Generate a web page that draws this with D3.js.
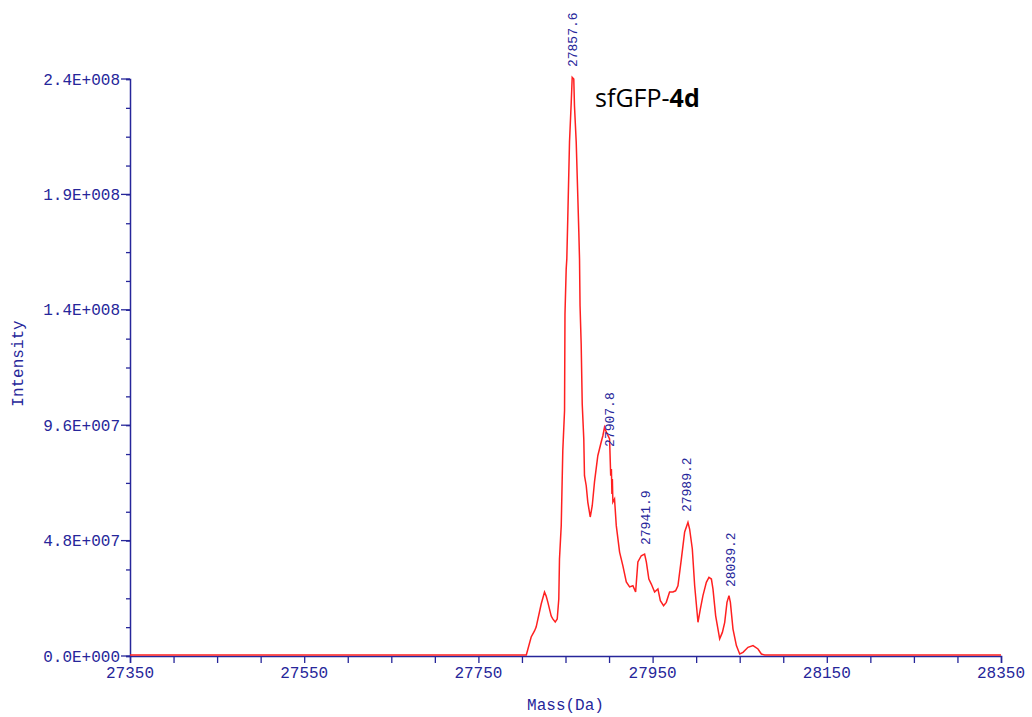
<!DOCTYPE html>
<meta charset="utf-8">
<script src="https://d3js.org/d3.v7.min.js"></script>
<style>
  body { margin: 0; background: #fff; }
</style>
<div id="my_dataviz"></div>
<script>

// spectrum trace: mass (Da) and intensity (x 1e6)
var mass = [27350, 27805, 27810.6, 27814.4, 27816.3, 27820.1, 27822.1, 27825.9, 27827.8, 27829.7,
  27833.6, 27835.4, 27838.2, 27840.5, 27842.3, 27843.1, 27845.1, 27846.9, 27848.9, 27849.4,
  27850.8, 27851.5, 27852.6, 27854.6, 27856.6, 27857.7, 27859.5, 27860.3, 27862.3, 27864.1,
  27865.3, 27866.1, 27866.7, 27868.0, 27869.2, 27871.0, 27871.8, 27873.8, 27875.6, 27878.4,
  27880.7, 27883.3, 27887.1, 27891.0, 27892.9, 27894.8, 27896.8, 27900.6, 27901.9, 27902.7,
  27903.3, 27903.8, 27904.4, 27906.3, 27908.3, 27912.1, 27915.9, 27919.8, 27923.6, 27927.4,
  27930.5, 27933.1, 27937.0, 27940.8, 27942.8, 27945.7, 27948.5, 27952.3, 27956.1, 27958.9,
  27962.6, 27965.7, 27969.5, 27973.3, 27976.4, 27979.1, 27983.0, 27986.8, 27990.6, 27992.5,
  27995.6, 27998.3, 28002.1, 28004.8, 28007.8, 28011.7, 28014.7, 28017.5, 28019.3, 28022.4,
  28027.0, 28030.1, 28032.8, 28035.4, 28037.7, 28039.3, 28042.3, 28046.2, 28050.0, 28053.8,
  28059.5, 28065.3, 28071.0, 28074.9, 28078.7, 28350];
var intensity = [0, 0, 7.5, 10.0, 11.6, 17.9, 21.2, 26.2, 24.5, 22.0,
  16.2, 15.0, 13.7, 15.0, 23.3, 39.9, 53.8, 85.0, 101.6, 141.8,
  160.6, 164.7, 181.4, 213.4, 230.0, 240.3, 239.6, 228.5, 213.4, 191.0,
  175.9, 164.7, 145.3, 129.4, 104.4, 89.8, 74.6, 70.4, 63.6, 57.4,
  62.1, 72.0, 82.9, 88.6, 91.2, 94.7, 92.8, 89.9, 74.6, 77.4,
  67.0, 73.2, 63.6, 64.9, 53.8, 42.8, 37.1, 30.4, 28.3, 28.8,
  26.2, 38.7, 41.3, 42.0, 38.7, 31.6, 29.5, 26.2, 27.5, 22.6,
  20.5, 21.9, 26.2, 26.2, 26.7, 28.8, 39.9, 51.2, 55.2, 52.4,
  44.1, 28.8, 13.6, 19.1, 24.7, 30.2, 32.3, 31.6, 27.5, 16.3,
  6.7, 9.4, 13.6, 21.9, 24.7, 21.9, 10.8, 3.9, 0.4, 1.1,
  3.2, 3.9, 2.5, 0.4, 0, 0];

// peak annotations: text, anchor mass, anchor intensity (x 1e6)
var peakText = ["27857.6", "27907.8", "27941.9", "27989.2", "28039.2"];
var peakMass = [27857.6, 27901, 27941.9, 27989.2, 28039.2];
var peakInt = [240.4, 82.4, 41.6, 55.3, 24.1];

// axis ticks
var xLabelTicks = [27350, 27550, 27750, 27950, 28150, 28350];
var yLabelTicks = [0, 48, 96, 144, 192, 240];
var yLabelText = ["0.0E+000", "4.8E+007", "9.6E+007", "1.4E+008", "1.9E+008", "2.4E+008"];

var axisColor = "#26269a";
var monoFont = "'Liberation Mono', 'DejaVu Sans Mono', monospace";

var margin = {top: 79, right: 31, bottom: 61, left: 130},
    width = 1032 - margin.left - margin.right,
    height = 717 - margin.top - margin.bottom;

var svg = d3.select("#my_dataviz")
  .append("svg")
    .attr("width", 1032)
    .attr("height", 717)
  .append("g")
    .attr("transform", "translate(" + margin.left + "," + margin.top + ")");

var x = d3.scaleLinear().domain([27350, 28350]).range([0, width]);
var y = d3.scaleLinear().domain([0, 240]).range([height, 0]);

// X axis: minor ticks every 50 Da, labels every 200 Da
var xMinor = d3.range(27350, 28350.1, 50);
var xAxisG = svg.append("g").attr("transform", "translate(0," + height + ")");
xAxisG.call(d3.axisBottom(x).tickValues(xMinor).tickSize(7).tickFormat(""));
xAxisG.selectAll("text").remove();
xAxisG.selectAll("text.lab")
  .data(xLabelTicks)
  .enter().append("text")
    .attr("class", "lab")
    .attr("x", function(d) { return x(d); })
    .attr("y", 22)
    .attr("text-anchor", "middle")
    .style("font-family", monoFont)
    .style("font-size", "16px")
    .attr("fill", axisColor)
    .text(function(d) { return d; });

// Y axis: minor ticks every 1.2E7, labels every 4.8E7
var yMinor = d3.range(0, 240.1, 12);
var yAxisG = svg.append("g");
yAxisG.call(d3.axisLeft(y).tickValues(yMinor).tickSize(4).tickFormat(""));
yAxisG.selectAll("line.major")
  .data(yLabelTicks)
  .enter().append("line")
    .attr("class", "major")
    .attr("x1", -9).attr("x2", 0)
    .attr("y1", function(d) { return y(d); })
    .attr("y2", function(d) { return y(d); });
yAxisG.selectAll("text.lab")
  .data(yLabelTicks)
  .enter().append("text")
    .attr("class", "lab")
    .attr("x", -10)
    .attr("y", function(d) { return y(d); })
    .attr("dy", "0.35em")
    .attr("text-anchor", "end")
    .style("font-family", monoFont)
    .style("font-size", "16px")
    .attr("fill", axisColor)
    .text(function(d, i) { return yLabelText[i]; });

[xAxisG, yAxisG].forEach(function(g) {
  g.select(".domain").attr("stroke", axisColor).attr("stroke-width", 1.5);
  g.selectAll("line").attr("stroke", axisColor).attr("stroke-width", 1.3);
});

// axis titles
svg.append("text")
  .attr("x", width / 2)
  .attr("y", height + 54)
  .attr("text-anchor", "middle")
  .style("font-family", monoFont)
  .style("font-size", "16px")
  .attr("fill", axisColor)
  .text("Mass(Da)");

svg.append("text")
  .attr("transform", "translate(" + (-107) + "," + (height / 2 - 4) + ") rotate(-90)")
  .attr("text-anchor", "middle")
  .style("font-family", monoFont)
  .style("font-size", "16px")
  .attr("fill", axisColor)
  .text("Intensity");

// the spectrum
var pts = mass.map(function(m, i) { return [m, intensity[i]]; });
svg.append("path")
  .datum(pts)
  .attr("fill", "none")
  .attr("stroke", "#ff2020")
  .attr("stroke-width", 1.5)
  .attr("d", d3.line()
    .x(function(d) { return x(d[0]); })
    .y(function(d) { return y(d[1]) - 1; })
  );

// peak labels
svg.selectAll("text.peak")
  .data(peakText)
  .enter().append("text")
    .attr("class", "peak")
    .attr("transform", function(d, i) {
      return "translate(" + (x(peakMass[i]) + 4.5) + "," + (y(peakInt[i]) - 11) + ") rotate(-90)";
    })
    .attr("text-anchor", "start")
    .style("font-family", monoFont)
    .style("font-size", "13px")
    .attr("fill", axisColor)
    .text(function(d) { return d; });

// sample name
var title = svg.append("text")
  .attr("x", x(27884))
  .attr("y", y(240) + 28)
  .style("font-family", "'Open Sans', 'Noto Sans', sans-serif")
  .style("font-size", "25px")
  .attr("fill", "#000");
title.append("tspan").text("sfGFP-");
title.append("tspan").style("font-weight", "bold").text("4d");

</script>
